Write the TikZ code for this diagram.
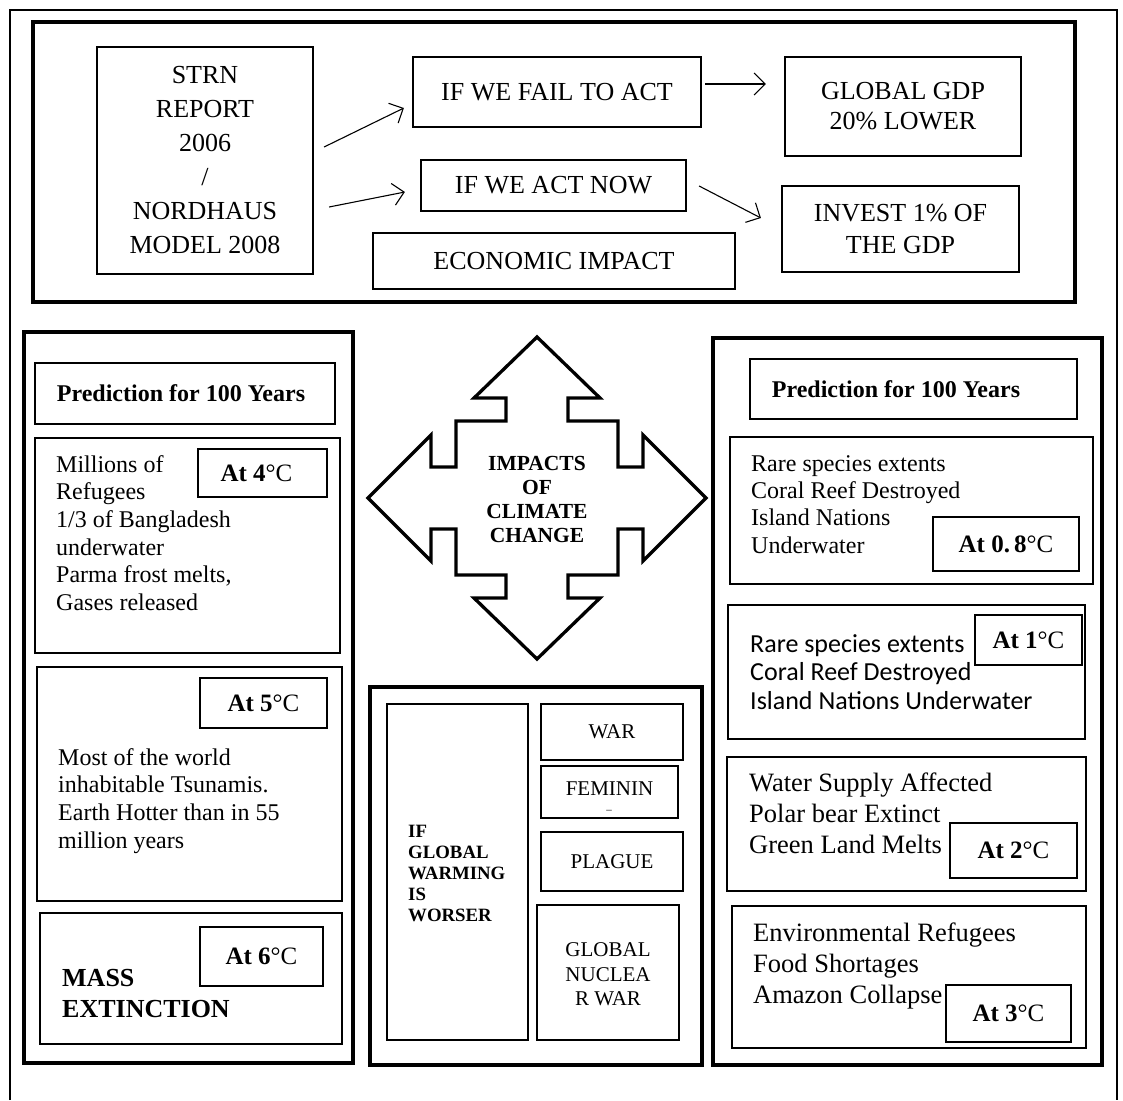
\documentclass[tikz,border=0pt]{standalone}
\usepackage{fontspec}
\setmainfont{Liberation Serif}
\newfontfamily\calfont{Carlito}
\usetikzlibrary{arrows.meta,calc}
\newcommand\atlabel[1]{\textbf{At #1}°C}

\begin{document}
\begin{tikzpicture}[x=1pt,y=-1pt,
  frame/.style={draw,line width=4.5pt,inner sep=0pt},
  box/.style={draw,line width=2.2pt,inner sep=0pt,align=center},
  tag/.style={box,fill=white,font=\fontsize{25}{28}\selectfont},
  big/.style={font=\fontsize{26}{34}\selectfont},
  mid/.style={font=\fontsize{21}{24.5}\selectfont},
  body/.style={inner sep=0pt,align=left,anchor=north west,font=\fontsize{24}{27.7}\selectfont},
  head/.style={inner sep=0pt,font=\bfseries\fontsize{24}{26}\selectfont},
  arr/.style={line width=1.1pt,-{Straight Barb[length=11pt,width=22pt,line width=1.1pt]}}
]
\useasboundingbox (0,0) rectangle (1123,1100);

% page border, open at the bottom
\draw[line width=2.5pt] (10,1100) -- (10,10) -- (1117,10) -- (1117,1100);

% ---------- economic impact panel ----------
\node[frame,minimum width=1042pt,minimum height=280pt] (top) at (554,162) {};
\node[box,big,minimum width=216pt,minimum height=227pt] (strn) at (205,160.5)
  {STRN\\REPORT\\2006\\/\\NORDHAUS\\MODEL 2008};
\node[box,big,minimum width=288pt,minimum height=70pt] (fail) at (557,92) {IF WE FAIL TO ACT};
\node[box,big,minimum width=265pt,minimum height=51pt] (act) at (553.5,185.5) {IF WE ACT NOW};
\node[box,big,minimum width=362pt,minimum height=56pt] (econ) at (554,261) {ECONOMIC IMPACT};
\node[box,big,font=\fontsize{26}{30}\selectfont,minimum width=236pt,minimum height=99pt] (gdp) at (903,106.5)
  {GLOBAL GDP\\20\% LOWER};
\node[box,big,font=\fontsize{26}{32}\selectfont,minimum width=237pt,minimum height=86pt] (invest) at (900.5,229)
  {INVEST 1\% OF\\THE GDP};

\draw[arr] ($(strn.east)+(10,-13.5)$) -- ($(fail.west)+(-8,16)$);
\draw[arr] ($(strn.east)+(15,46.5)$) -- ($(act.west)+(-15,6.5)$);
\draw[arr] ($(fail.east)+(3,-8)$) -- ($(gdp.west)+(-18,-22.5)$);
\draw[arr] ($(act.east)+(12,0.5)$) -- ($(invest.west)+(-20,-11)$);

% ---------- left panel: 4 to 6 degrees ----------
\node[frame,minimum width=329pt,minimum height=731pt] (left) at (188.5,697.5) {};
\node[box,minimum width=300pt,minimum height=61pt] (predL) at (185,393.5) {};
\node[head] (predLt) at (181,393.5) {Prediction for 100 Years};

\node[box,minimum width=305pt,minimum height=215pt] (b4) at (187.5,545.5) {};
\node[body] (t4) at (56,455) {Millions of\\Refugees\\1/3 of Bangladesh\\underwater\\Parma frost melts,\\Gases released};
\node[tag,minimum width=129pt,minimum height=48pt] (a4) at (262.5,473) {\atlabel{4}\hspace{12pt}};

\node[box,minimum width=305pt,minimum height=234pt] (b5) at (189.5,784) {};
\node[tag,minimum width=127pt,minimum height=50pt] (a5) at (263.5,703) {\atlabel{5}};
\node[body] (t5) at (58,748) {Most of the world\\inhabitable Tsunamis.\\Earth Hotter than in 55\\million years};

\node[box,minimum width=302pt,minimum height=131pt] (b6) at (191,978.5) {};
\node[tag,minimum width=123pt,minimum height=59pt] (a6) at (261.5,956.5) {\atlabel{6}};
\node[body,font=\bfseries\fontsize{26}{31}\selectfont] (t6) at (62,969) {MASS\\EXTINCTION};

% ---------- central emblem ----------
\begin{scope}[shift={(537,498)}]
\draw[line width=3.3pt,line join=miter]
  (0,-161) -- (63,-100) -- (31,-100) -- (31,-77) -- (81,-77) -- (81,-31) -- (106,-31) -- (106,-63)
  -- (169,0) -- (106,63) -- (106,31) -- (81,31) -- (81,77) -- (31,77) -- (31,100) -- (63,100)
  -- (0,161) -- (-63,100) -- (-31,100) -- (-31,77) -- (-81,77) -- (-81,31) -- (-106,31) -- (-106,63)
  -- (-169,0) -- (-106,-63) -- (-106,-31) -- (-81,-31) -- (-81,-77) -- (-31,-77) -- (-31,-100) -- (-63,-100)
  -- cycle;
\node[inner sep=0pt,align=center,font=\bfseries\fontsize{21.5}{24}\selectfont] (impacts) at (0,1)
  {IMPACTS\\OF\\CLIMATE\\CHANGE};
\end{scope}

% ---------- middle panel ----------
\node[frame,minimum width=332pt,minimum height=378pt] (midp) at (536,876) {};
\node[box,minimum width=141pt,minimum height=336pt] (ifgw) at (457.5,872) {};
\node[inner sep=0pt,align=left,anchor=north west,font=\bfseries\fontsize{18.8}{21}\selectfont] (ifgwt) at (408,825)
  {IF\\GLOBAL\\WARMING\\IS\\WORSER};
\node[box,mid,line width=2.8pt,minimum width=142pt,minimum height=56pt] (war) at (612,732) {WAR};
\node[box,line width=2.8pt,minimum width=137pt,minimum height=52pt] (fem) at (609.5,792) {};
\node[inner sep=0pt,mid] (femt) at (609.5,789) {FEMININ};
\node[inner sep=0pt,font=\fontsize{11}{11}\selectfont] (femdash) at (609,810) {\_};
\node[box,mid,line width=2.8pt,minimum width=142pt,minimum height=59pt] (plague) at (612,861.5) {PLAGUE};
\node[box,minimum width=142pt,minimum height=135pt] (gnw) at (608,972.5) {};
\node[inner sep=0pt,align=center,mid] (gnwt) at (608,974.5) {GLOBAL\\NUCLEA\\R WAR};

% ---------- right panel: 0.8 to 3 degrees ----------
\node[frame,minimum width=389pt,minimum height=727pt] (right) at (907.5,701.5) {};
\node[box,minimum width=327pt,minimum height=60pt] (predR) at (913.5,389) {};
\node[head] (predRt) at (896,389) {Prediction for 100 Years};

\node[box,minimum width=363pt,minimum height=147pt] (b08) at (911.5,510.5) {};
\node[body,font=\fontsize{24}{27.3}\selectfont] (t08) at (751,455)
  {Rare species extents\\Coral Reef Destroyed\\Island Nations\\Underwater};
\node[tag,minimum width=146pt,minimum height=54pt] (a08) at (1006,544) {\atlabel{0.\,8}};

\node[box,minimum width=357pt,minimum height=134pt] (b1) at (906.5,672) {};
\node[body,font=\calfont\fontsize{26}{28.5}\selectfont] (t1) at (750,634)
  {Rare species extents\\Coral Reef Destroyed\\Island Nations Underwater};
\node[tag,minimum width=107pt,minimum height=50pt] (a1) at (1028.5,640) {\atlabel{1}};

\node[box,minimum width=359pt,minimum height=134pt] (b2) at (906.5,824) {};
\node[body,font=\fontsize{26.5}{31}\selectfont] (t2) at (749,773)
  {Water Supply Affected\\Polar bear Extinct\\Green Land Melts};
\node[tag,minimum width=127pt,minimum height=55pt] (a2) at (1013.5,850.5) {\atlabel{2}};

\node[box,minimum width=354pt,minimum height=142pt] (b3) at (909,977) {};
\node[body,font=\fontsize{26.5}{31}\selectfont] (t3) at (753,923)
  {Environmental Refugees\\Food Shortages\\Amazon Collapse};
\node[tag,minimum width=125pt,minimum height=57pt] (a3) at (1008.5,1013.5) {\atlabel{3}};

\end{tikzpicture}
\end{document}
